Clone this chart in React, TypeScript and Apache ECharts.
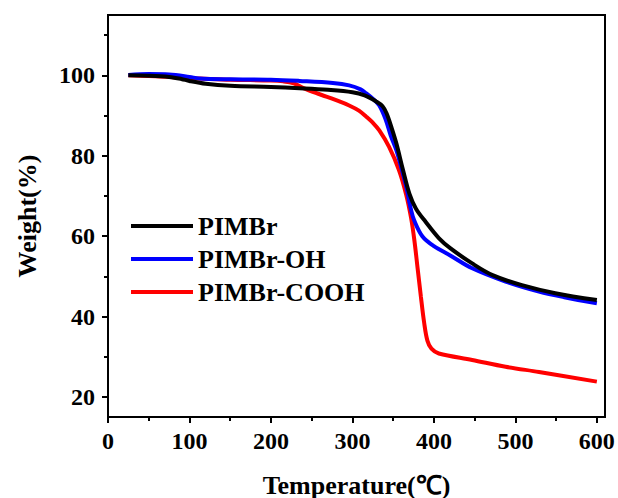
import React, { useEffect, useRef } from "react";
import * as echarts from "echarts";

const seriesNames = ["PIMBr", "PIMBr-OH", "PIMBr-COOH"];
const seriesColors = ["#000000", "#0000ff", "#ff0000"];

const tempPIMBr = [25, 50, 75, 90, 100, 120, 150, 200, 235, 270, 300, 315, 329, 337, 342, 348, 354, 362, 370, 378, 390, 406, 420, 447, 472, 508, 549, 600];
const wtPIMBr = [100, 99.9, 99.6, 99.1, 98.6, 97.9, 97.4, 97.1, 96.8, 96.4, 95.8, 95.0, 93.5, 92.3, 90.5, 87.0, 83.0, 76.5, 70.5, 66.8, 63.5, 59.5, 57.0, 53.2, 50.3, 47.8, 45.8, 44.1];

const tempOH = [25, 50, 75, 100, 112, 150, 200, 235, 276, 296, 310, 317, 325, 333, 341, 347, 354, 360, 366, 372, 376, 386, 400, 420, 447, 488, 529, 560, 600];
const wtOH = [100.1, 100.3, 100.2, 99.6, 99.2, 99.0, 98.9, 98.6, 98.1, 97.5, 96.5, 95.5, 94.2, 92.5, 88.9, 85.0, 81.3, 77.0, 72.3, 66.5, 63.8, 59.9, 57.5, 55.2, 52.0, 48.7, 46.2, 44.8, 43.3];

const tempCOOH = [25, 50, 75, 100, 113, 150, 200, 215, 228, 240, 255, 268, 280, 296, 308, 317, 325, 333, 345, 357, 366, 372, 376, 380, 384, 388, 392, 397, 406, 447, 488, 529, 600];
const wtCOOH = [100, 99.8, 99.6, 99.3, 99.2, 98.9, 98.7, 98.5, 98.0, 96.8, 95.6, 94.7, 93.8, 92.5, 91.2, 89.7, 88.2, 86.3, 82.2, 76.5, 70.3, 64.5, 59.0, 52.0, 45.0, 38.5, 34.0, 32.0, 30.8, 29.2, 27.5, 26.2, 23.8];

const xMajorTicks = [0, 100, 200, 300, 400, 500, 600];
const xMinorTicks = [50, 150, 250, 350, 450, 550];
const yMajorTicks = [20, 40, 60, 80, 100];
const yMinorTicks = [30, 50, 70, 90, 110];

const FONT = '"Times New Roman", "Liberation Serif", serif';

const zip = (xs: number[], ys: number[]) => xs.map((x, i) => [x, ys[i]]);

export default function App() {
  const ref = useRef<HTMLDivElement>(null);
  useEffect(() => {
    document.body.style.margin = "0";
    if (!ref.current) return;
    const chart = echarts.init(ref.current, null, { renderer: "svg" });
    const axisLineStyle = { color: "#000", width: 2 };
    const labelStyle = { fontFamily: FONT, fontWeight: "bold" as const, fontSize: 24, color: "#000" };
    const data = [zip(tempPIMBr, wtPIMBr), zip(tempOH, wtOH), zip(tempCOOH, wtCOOH)];
    chart.setOption({
      animation: false,
      backgroundColor: "#fff",
      grid: {
        left: 108, right: 13, top: 15, bottom: 81,
        outerBoundsMode: "none", containLabel: false,
        show: true, borderColor: "#000", borderWidth: 2, backgroundColor: "transparent",
      },
      legend: {
        orient: "vertical",
        left: 126,
        top: 208,
        icon: "rect",
        itemWidth: 62,
        itemHeight: 4,
        itemGap: 7,
        data: seriesNames,
        textStyle: { fontFamily: FONT, fontWeight: "bold", fontSize: 26, color: "#000" },
      },
      xAxis: [
        {
          type: "value", min: 0, max: 610, position: "bottom",
          name: "Temperature(℃)", nameLocation: "middle", nameGap: 55,
          nameTextStyle: { fontFamily: FONT, fontWeight: "bold", fontSize: 26, color: "#000" },
          axisLine: { show: true, onZero: false, lineStyle: axisLineStyle },
          axisTick: { show: true, customValues: xMajorTicks, length: 6, lineStyle: axisLineStyle },
          axisLabel: { customValues: xMajorTicks, margin: 12, ...labelStyle },
          splitLine: { show: false },
        },
        {
          type: "value", min: 0, max: 610, position: "bottom",
          axisLine: { show: false, onZero: false },
          axisTick: { show: true, customValues: xMinorTicks, length: 4, lineStyle: axisLineStyle },
          axisLabel: { show: false },
          splitLine: { show: false },
        },
      ],
      yAxis: [
        {
          type: "value", min: 15, max: 115, position: "left",
          name: "Weight(%)", nameLocation: "middle", nameGap: 68,
          nameTextStyle: { fontFamily: FONT, fontWeight: "bold", fontSize: 26, color: "#000" },
          axisLine: { show: true, onZero: false, lineStyle: axisLineStyle },
          axisTick: { show: true, customValues: yMajorTicks, length: 6, lineStyle: axisLineStyle },
          axisLabel: { customValues: yMajorTicks, margin: 13, ...labelStyle },
          splitLine: { show: false },
        },
        {
          type: "value", min: 15, max: 115, position: "left",
          axisLine: { show: false, onZero: false },
          axisTick: { show: true, customValues: yMinorTicks, length: 4, lineStyle: axisLineStyle },
          axisLabel: { show: false },
          splitLine: { show: false },
        },
      ],
      series: seriesNames.map((name, i) => ({
        name,
        type: "line",
        data: data[i],
        showSymbol: false,
        smooth: 0.35,
        color: seriesColors[i],
        lineStyle: { color: seriesColors[i], width: 4 },
        z: 3 - i,
      })),
    });
    return () => chart.dispose();
  }, []);
  return <div ref={ref} style={{ width: 618, height: 498 }} />;
}
